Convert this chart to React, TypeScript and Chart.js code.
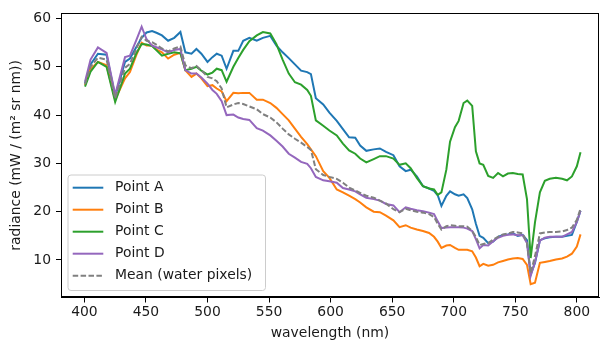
import React, { useEffect, useRef } from "react";
import { Chart, registerables } from "chart.js";

Chart.register(...registerables);

const wavelengths = [
  400.5, 405, 411, 418, 425, 433, 437, 442, 446.5, 450.5, 455, 459, 463, 468, 473, 478,
  482, 487, 491, 495, 500, 504, 507.5, 511.5, 515.5, 521, 525, 529, 534, 540, 545, 551,
  556, 561, 566, 571, 576, 581, 584, 588, 594, 599, 605, 610, 615, 620, 624, 629, 635,
  640, 645, 651, 656, 661, 665, 670, 675, 680, 684, 687, 690, 694, 697, 701, 704, 708,
  711, 715, 718, 721, 724, 728, 732, 736, 740, 744, 748, 752, 756, 759.5, 762.5, 766,
  770, 774, 778, 783, 788, 792, 796, 800, 803,
];

const pointA = [
  46.6, 50.5, 52.7, 52.5, 43.9, 51.0, 51.7, 54.0, 56.0, 57.1, 57.4, 57.0, 56.5, 55.4, 56.0, 57.2,
  53.0, 52.7, 53.7, 52.7, 51.0, 52.0, 52.7, 52.3, 49.6, 53.3, 53.3, 55.4, 56.0, 55.4, 56.0, 56.4,
  54.4, 53.0, 51.8, 50.5, 49.2, 48.9, 48.5, 43.5, 42.2, 40.5, 38.8, 37.1, 35.4, 35.3, 33.7, 32.6, 32.9,
  33.1, 32.4, 31.7, 29.4, 28.4, 28.7, 27.3, 25.3, 24.8, 24.3, 23.4, 21.2, 23.3, 24.2, 23.6, 23.3, 23.6,
  22.8, 20.5, 17.5, 15.0, 14.6, 13.5, 13.8, 14.8, 15.2, 15.3, 15.5, 15.0, 15.2, 14.1, 7.0, 9.4,
  14.1, 14.5, 14.7, 14.8, 14.8, 15.0, 15.2, 17.9, 20.2,
];

const pointB = [
  46.2, 49.5, 51.0, 50.3, 43.2, 47.6, 48.9, 52.3, 55.0, 54.4, 54.4, 53.5, 53.0, 51.7, 52.5, 52.9,
  49.3, 47.9, 48.6, 47.6, 46.0, 46.2, 45.5, 44.9, 42.9, 44.6, 44.5, 44.6, 44.6, 43.2, 43.2, 42.5,
  41.5, 40.2, 38.9, 37.2, 35.5, 34.0, 32.9, 31.5, 28.4, 27.0, 24.6, 24.0, 23.3, 22.6, 21.9, 20.9, 20.0,
  19.9, 19.2, 18.2, 16.8, 17.2, 16.7, 16.3, 16.0, 15.6, 14.8, 13.8, 12.5, 13.0, 13.1, 12.5, 12.1, 12.1,
  12.1, 11.8, 10.5, 8.7, 9.2, 8.8, 9.0, 9.5, 9.8, 10.1, 10.3, 10.4, 10.2, 9.0, 5.0, 5.3,
  9.4, 9.6, 9.8, 10.1, 10.3, 10.7, 11.3, 12.8, 15.3,
];

const pointC = [
  45.9, 49.0, 51.0, 50.0, 42.7, 48.6, 49.6, 52.7, 54.7, 54.6, 54.3, 53.3, 52.3, 52.7, 53.0, 52.8,
  49.3, 49.6, 50.0, 49.2, 48.4, 48.8, 49.6, 49.3, 46.9, 50.0, 51.8, 53.5, 55.3, 56.5, 57.2, 56.9,
  54.7, 51.5, 48.6, 46.8, 46.3, 45.2, 44.0, 38.9, 37.8, 36.8, 35.8, 34.1, 32.7, 32.0, 31.0, 30.2, 30.9,
  31.5, 31.5, 31.0, 29.7, 30.0, 29.0, 27.0, 25.3, 24.8, 24.6, 23.5, 24.0, 28.7, 34.5, 37.5, 38.8, 42.5,
  43.0, 41.9, 32.5, 30.0, 29.7, 27.4, 27.0, 28.0, 27.3, 27.9, 28.0, 27.8, 27.7, 22.6, 10.4, 17.8,
  24.0, 26.4, 26.8, 27.0, 26.8, 26.5, 27.3, 29.4, 32.3,
];

const pointD = [
  46.9, 51.5, 54.0, 52.9, 44.2, 52.0, 52.3, 55.4, 58.3, 55.7, 54.4, 54.0, 53.6, 53.0, 53.5, 53.7,
  49.3, 48.6, 48.6, 47.8, 46.5, 45.2, 44.4, 42.9, 40.0, 40.1, 39.5, 39.2, 39.0, 37.3, 36.8, 35.8,
  34.7, 33.5, 32.0, 31.2, 30.3, 29.9, 29.0, 27.2, 26.5, 26.3, 26.0, 24.9, 24.6, 24.2, 23.6, 22.9, 22.6,
  22.3, 21.6, 21.3, 19.9, 20.9, 20.6, 20.3, 20.1, 19.8, 19.5, 18.0, 16.6, 16.7, 16.8, 16.8, 16.8, 16.7,
  16.5, 16.0, 14.3, 12.4, 13.1, 13.0, 13.9, 14.6, 15.0, 15.2, 15.3, 15.1, 15.1, 13.5, 6.7, 9.6,
  14.0, 14.6, 14.8, 14.8, 14.8, 15.3, 15.8, 17.9, 20.2,
];

const meanWater = [
  46.4, 50.0, 51.9, 51.5, 43.5, 49.8, 50.6, 53.6, 56.2, 55.4, 55.1, 54.5, 53.8, 53.2, 53.8, 54.2,
  50.3, 49.7, 50.2, 49.3, 47.9, 47.6, 47.0, 45.5, 41.6, 42.2, 42.5, 42.3, 41.8, 41.2, 40.2, 39.5,
  38.5, 37.2, 36.0, 35.1, 34.3, 33.4, 32.8, 28.8, 27.6, 27.2, 26.8, 26.0, 25.0, 24.4, 23.9, 23.3, 22.9,
  22.3, 21.7, 20.5, 19.9, 20.6, 20.3, 20.0, 19.8, 19.5, 18.9, 17.5, 16.3, 17.0, 17.2, 17.1, 17.0, 17.0,
  16.9, 16.0, 14.8, 13.1, 13.3, 13.5, 14.2, 14.8, 15.3, 15.5, 15.8, 15.7, 15.5, 13.5, 7.3, 10.8,
  15.5, 15.7, 15.8, 15.8, 15.9, 16.2, 16.7, 18.3, 20.6,
];

const seriesLabels = ["Point A", "Point B", "Point C", "Point D", "Mean (water pixels)"];
const seriesColors = ["#1f77b4", "#ff7f0e", "#2ca02c", "#9467bd", "#808080"];
const xTicks = [400, 450, 500, 550, 600, 650, 700, 750, 800];
const yTicks = [10, 20, 30, 40, 50, 60];
const xTitle = "wavelength (nm)";
const yTitle = "radiance (mW / (m\u00B2 sr nm))";

const FONT_FAMILY = "'DejaVu Sans', sans-serif";
const FONT_SIZE = 13.9;
const TEXT_COLOR = "#1a1a1a";

const framePlugin = {
  id: "mplFrame",
  afterDatasetsDraw(chart: any) {
    const { ctx, chartArea } = chart;
    const { left, right, top, bottom } = chartArea;
    ctx.save();
    ctx.strokeStyle = "#000";
    ctx.lineWidth = 1;
    ctx.strokeRect(Math.round(left) + 0.5, Math.round(top) + 0.5, Math.round(right - left) - 1, Math.round(bottom - top) - 1);
    ctx.restore();
  },
};

const legendPlugin = {
  id: "mplLegend",
  afterDraw(chart: any) {
    const { ctx, chartArea } = chart;
    const x0 = chartArea.left + 7;
    const w = 197.5;
    const h = 115.5;
    const y0 = chartArea.bottom - 7 - h;
    const r = 3;
    ctx.save();
    ctx.beginPath();
    ctx.moveTo(x0 + r, y0);
    ctx.lineTo(x0 + w - r, y0);
    ctx.arcTo(x0 + w, y0, x0 + w, y0 + r, r);
    ctx.lineTo(x0 + w, y0 + h - r);
    ctx.arcTo(x0 + w, y0 + h, x0 + w - r, y0 + h, r);
    ctx.lineTo(x0 + r, y0 + h);
    ctx.arcTo(x0, y0 + h, x0, y0 + h - r, r);
    ctx.lineTo(x0, y0 + r);
    ctx.arcTo(x0, y0, x0 + r, y0, r);
    ctx.closePath();
    ctx.fillStyle = "rgba(255,255,255,0.8)";
    ctx.fill();
    ctx.strokeStyle = "#cccccc";
    ctx.lineWidth = 1;
    ctx.stroke();

    ctx.font = `${FONT_SIZE}px ${FONT_FAMILY}`;
    ctx.textBaseline = "middle";
    ctx.textAlign = "left";
    chart.data.datasets.forEach((ds: any, i: number) => {
      const cy = y0 + 12.7 + i * 22;
      ctx.beginPath();
      ctx.strokeStyle = ds.borderColor;
      ctx.lineWidth = 2;
      ctx.setLineDash(ds.borderDash || []);
      ctx.moveTo(x0 + 4.7, cy);
      ctx.lineTo(x0 + 35.3, cy);
      ctx.stroke();
      ctx.setLineDash([]);
      ctx.fillStyle = TEXT_COLOR;
      ctx.fillText(ds.label, x0 + 47, cy);
    });
    ctx.restore();
  },
};

export default function App() {
  const canvasRef = useRef<HTMLCanvasElement | null>(null);

  useEffect(() => {
    const canvas = canvasRef.current;
    if (!canvas) return;
    const seriesValues = [pointA, pointB, pointC, pointD, meanWater];
    const font = { family: FONT_FAMILY, size: FONT_SIZE };
    const chart = new Chart(canvas, {
      type: "line",
      data: {
        datasets: seriesValues.map((vals, i) => ({
          label: seriesLabels[i],
          data: wavelengths.map((w, j) => ({ x: w, y: vals[j] })),
          borderColor: seriesColors[i],
          backgroundColor: seriesColors[i],
          borderWidth: 2,
          borderDash: i === 4 ? [5.5, 2.4] : [],
          pointRadius: 0,
          tension: 0,
          fill: false,
          order: 4 - i,
        })),
      },
      options: {
        responsive: false,
        animation: false,
        devicePixelRatio: 1,
        layout: { padding: { top: 6.5, right: 5, left: 0, bottom: 0 } },
        plugins: {
          legend: { display: false },
          tooltip: { enabled: false },
        },
        scales: {
          x: {
            type: "linear",
            min: 381,
            max: 818,
            afterBuildTicks: (s: any) => {
              s.ticks = xTicks.map((v) => ({ value: v }));
            },
            afterFit: (s: any) => {
              s.height = 47.5;
            },
            ticks: { font, color: TEXT_COLOR, padding: 2, maxRotation: 0, autoSkip: false },
            grid: { drawOnChartArea: false, drawTicks: true, tickLength: 5, color: "#000" },
            border: { display: true, color: "#000" },
            title: { display: true, text: xTitle, font, color: TEXT_COLOR, padding: { top: 0, bottom: 3.7 } },
          },
          y: {
            type: "linear",
            min: 2.23,
            max: 61.07,
            afterBuildTicks: (s: any) => {
              s.ticks = yTicks.map((v) => ({ value: v }));
            },
            afterFit: (s: any) => {
              s.width = 61;
            },
            ticks: { font, color: TEXT_COLOR, padding: 5 },
            grid: { drawOnChartArea: false, drawTicks: true, tickLength: 5, color: "#000" },
            border: { display: true, color: "#000" },
            title: { display: true, text: yTitle, font, color: TEXT_COLOR, padding: { top: 8.5, bottom: 0 } },
          },
        },
      },
      plugins: [framePlugin, legendPlugin],
    } as any);
    return () => chart.destroy();
  }, []);

  return (
    <div style={{ position: "fixed", left: 0, top: 0, width: 604, height: 345, background: "#fff" }}>
      <canvas ref={canvasRef} width={604} height={345} style={{ display: "block" }} />
    </div>
  );
}
